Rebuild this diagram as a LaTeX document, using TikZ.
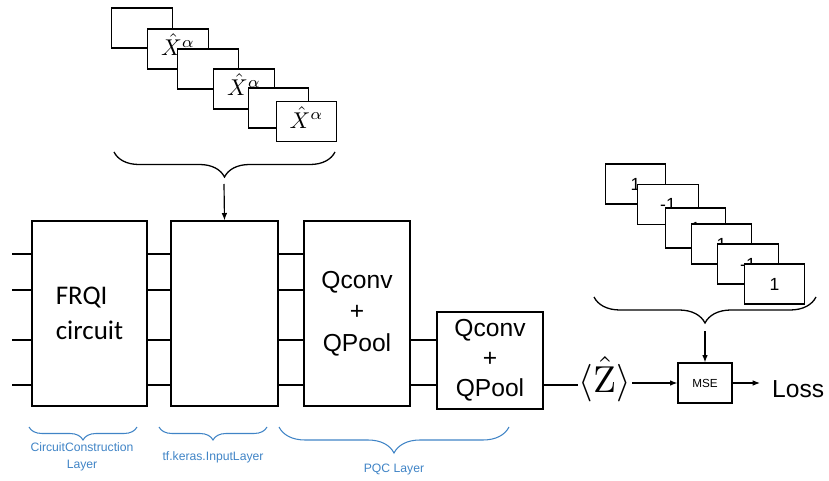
\documentclass[tikz,border=0pt]{standalone}
\usepackage{fontspec}
\newfontfamily\arialf{Liberation Sans}
\newfontfamily\calibrif{Carlito}
\usetikzlibrary{arrows.meta,decorations.pathreplacing}
\definecolor{layerblue}{RGB}{64,132,198}
\newcommand{\xlab}{\raisebox{7pt}{\scalebox{1.95}{$\hat{X}^{\alpha}$}}}
\tikzset{
  box/.style={draw, line width=1.1pt, fill=white, inner sep=0pt},
  klayer/.style={box, minimum width=3.2cm, minimum height=5.55cm},
  kpqc/.style={box, minimum width=3.18cm, minimum height=2.91cm, align=center, font=\arialf\fontsize{21}{25.5}\selectfont},
  kcard/.style={box, minimum width=1.82cm, minimum height=1.2cm},
  kval/.style={box, minimum width=1.82cm, minimum height=1.2cm, font=\arialf\fontsize{15}{18}\selectfont},
  wire/.style={line width=1.1pt},
  flow/.style={-{Latex[length=2.2mm, width=1.7mm]}, line width=1pt},
  kbrace/.style={decorate, decoration={brace, mirror, amplitude=#1}, line width=1.1pt},
  kblue/.style={text=layerblue, font=\arialf\fontsize{10.4}{14.5}\selectfont, align=center},
}

\begin{document}
\begin{tikzpicture}[x=0.03cm, y=-0.03cm]
    \useasboundingbox (0,0) rectangle (829,481);
    % input images
    \node[kcard] (xa) at (142,28) {};
    \node[kcard] (xb) at (178,49) {\xlab};
    \node[kcard] (xc) at (208,69) {};
    \node[kcard] (xd) at (244,89) {\xlab};
    \node[kcard] (xe) at (278.5,108) {};
    \node[kcard] (xf) at (306.5,121.5) {\xlab};
    % labels
    \node[kval] (ya) at (635.5,184) {1};
    \node[kval] (yb) at (668,204.5) {-1};
    \node[kval] (yc) at (695.5,228) {1};
    \node[kval] (yd) at (721.5,244) {1};
    \node[kval] (ye) at (748,264) {-1};
    \node[kval] (yf) at (774.5,284) {1};
    % layers
    \node[klayer, minimum width=3.45cm, align=left, font=\calibrif\fontsize{23}{30}\selectfont] (frqi) at (89.5,313.5) {FRQI\\circuit};
    \node[klayer, minimum width=3.21cm] (inp) at (224.5,313.5) {};
    \node[kpqc, minimum height=5.55cm, font=\arialf\fontsize{21}{27}\selectfont] (pqc1) at (357,313.5) {Qconv\\+\\QPool};
    \node[kpqc] (pqc2) at (490,360.5) {Qconv\\+\\QPool};
    \node[inner sep=1pt] (zhat) at (605,379) {\scalebox{3.2}{$\langle\hat{\mathrm{Z}}\rangle$}};
    \node[box, minimum width=1.62cm, minimum height=1.2cm, font=\arialf\fontsize{10}{12}\selectfont] (mse) at (705,383) {MSE};
    \node[anchor=base west, inner sep=0pt, inner xsep=0.36cm, font=\arialf\fontsize{21}{25}\selectfont] (loss) at (760,397) {Loss};
    % qubit wires
    \coordinate (w1) at (12,254);
    \coordinate (w2) at (12,290);
    \coordinate (w3) at (12,340);
    \coordinate (w4) at (12,385);
    \draw[wire] (w1) -- (w1 -| frqi.west);
    \draw[wire] (w2) -- (w2 -| frqi.west);
    \draw[wire] (w3) -- (w3 -| frqi.west);
    \draw[wire] (w4) -- (w4 -| frqi.west);
    \draw[wire] (frqi.east |- w1) -- (inp.west |- w1);
    \draw[wire] (frqi.east |- w2) -- (inp.west |- w2);
    \draw[wire] (frqi.east |- w3) -- (inp.west |- w3);
    \draw[wire] (frqi.east |- w4) -- (inp.west |- w4);
    \draw[wire] (inp.east |- w1) -- (pqc1.west |- w1);
    \draw[wire] (inp.east |- w2) -- (pqc1.west |- w2);
    \draw[wire] (inp.east |- w3) -- (pqc1.west |- w3);
    \draw[wire] (inp.east |- w4) -- (pqc1.west |- w4);
    \draw[wire] (pqc1.east |- w3) -- (pqc2.west |- w3);
    \draw[wire] (pqc1.east |- w4) -- (pqc2.west |- w4);
    \draw[wire] (pqc2.east |- w4) -- (zhat.west |- w4);
    \draw[flow] (zhat.east |- mse.west) -- (mse.west);
    \draw[flow] (mse.east) -- (mse.east -| loss.west);
    % braces
    \coordinate (xl) at (114,152);
    \coordinate (xr) at (335,152);
    \coordinate (xtip) at (224,184);
    \draw[kbrace=0.75cm] (xl) -- (xr);
    \draw[flow] (xtip) -- (inp.north);
    \coordinate (yl) at (594,297);
    \coordinate (yr) at (816,297);
    \coordinate (ytip) at (705,331);
    \draw[kbrace=0.78cm] (yl) -- (yr);
    \draw[flow] (ytip) -- (mse.north);
    % layer names
    \coordinate (al) at (29,427);
    \coordinate (ar) at (137,427);
    \coordinate (bl) at (159,427);
    \coordinate (br) at (267,427);
    \coordinate (cl) at (279,427);
    \coordinate (cr) at (509,427);
    \draw[kbrace=0.39cm, layerblue, line width=0.9pt] (al) -- (ar);
    \draw[kbrace=0.39cm, layerblue, line width=0.9pt] (bl) -- (br);
    \draw[kbrace=0.78cm, layerblue, line width=0.9pt] (cl) -- (cr);
    \node[kblue] (lcc) at (82,457) {CircuitConstruction\\Layer};
    \node[kblue] (ltf) at (213,457) {tf.keras.InputLayer};
    \node[kblue] (lpqc) at (394,470) {PQC Layer};
  \end{tikzpicture}
\end{document}
